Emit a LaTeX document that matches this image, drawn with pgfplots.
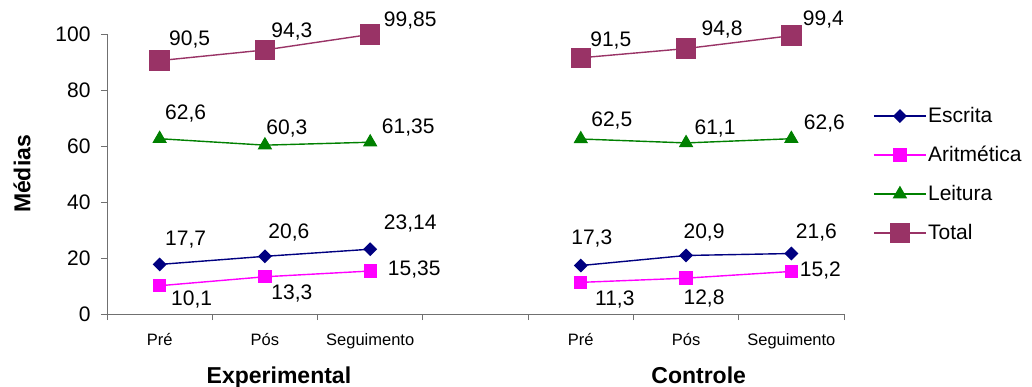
\documentclass[border=0pt]{standalone}
\usepackage{pgfplots}
\pgfplotsset{compat=1.18}
\usepackage{fontspec}
\setmainfont{Liberation Sans}

\definecolor{escrita}{HTML}{000080}
\definecolor{aritm}{HTML}{FF00FF}
\definecolor{leitura}{HTML}{008000}
\definecolor{total}{HTML}{993366}
\definecolor{axisgray}{HTML}{707070}

\newcommand{\fs}[1]{\fontsize{#1bp}{#1bp}\selectfont}

\begin{document}
\begin{tikzpicture}
\path[use as bounding box] (-107bp,-73bp) rectangle (925bp,314bp);
\begin{axis}[
  at={(0,0)}, anchor=south west,
  scale only axis,
  width=737bp, height=280bp,
  xmin=0.5, xmax=7.5,
  ymin=0, ymax=100,
  clip=false,
  axis lines=left,
  axis line style={-, axisgray, line width=0.9bp},
  tick align=outside,
  tick style={axisgray, line width=0.9bp},
  major tick length=6bp,
  minor tick length=6bp,
  ytick={0,20,...,100},
  yticklabel style={font=\fs{21}, xshift=-7bp},
  xtick={1,2,3,5,6,7},
  xticklabels={Pré, Pós, Seguimento, Pré, Pós, Seguimento},
  major x tick style={draw=none},
  minor xtick={0.5,1.5,...,7.5},
  xticklabel style={font=\fs{16.5}, yshift=-10bp},
  ylabel={\textbf{Médias}},
  ylabel style={font=\fs{23}, at={(axis description cs:-0.1153,0.5)}, anchor=center},
  /pgf/number format/.cd, use comma, fixed, precision=2, assume math mode=true, /pgfplots/.cd,
  point meta=y,
  nodes near coords,
  visualization depends on={value \thisrow{dx}\as\labdx},
  visualization depends on={value \thisrow{dy}\as\labdy},
  every node near coord/.append style={black, font=\fs{21}, anchor=center,
    xshift=\labdx bp, yshift=\labdy bp, inner sep=0pt},
  legend style={draw=none, fill=none, font=\fs{21},
    at={(1.0394,0.745)}, anchor=north west,
    inner sep=0pt, row sep=18bp,
    nodes={inner sep=1.5bp, text height=15bp, text depth=3bp}},
  legend cell align=left,
  legend image code/.code={%
    \draw[mark repeat=2, mark phase=2, #1]
      plot coordinates {(0bp,0bp) (26bp,0bp) (52bp,0bp)};},
  every axis plot/.append style={line width=1.4bp},
]

% Experimental
\addplot[escrita, mark=square*, mark size=4.2bp, mark options={rotate=45}]
  table {
x y dx dy
1 17.7 26 25
2 20.6 24 24
3 23.14 40 26
};
\addlegendentry{Escrita}

\addplot[aritm, mark=square*, mark size=6bp]
  table {
x y dx dy
1 10.1 32 -14
2 13.3 27 -17
3 15.35 44 2
};
\addlegendentry{Aritmética}

\addplot[leitura, mark=triangle*, mark size=7bp]
  table {
x y dx dy
1 62.6 26 25
2 60.3 22 17
3 61.35 38 15
};
\addlegendentry{Leitura}

\addplot[total, mark=square*, mark size=9.5bp]
  table {
x y dx dy
1 90.5 30 21
2 94.3 27 18
3 99.85 40 14
};
\addlegendentry{Total}

% Controle
\addplot[escrita, mark=square*, mark size=4.2bp, mark options={rotate=45}, forget plot]
  table {
x y dx dy
5 17.3 11 27
6 20.9 18 23
7 21.6 25 21
};

\addplot[aritm, mark=square*, mark size=6bp, forget plot]
  table {
x y dx dy
5 11.3 34 -17
6 12.8 18 -20
7 15.2 29 1
};

\addplot[leitura, mark=triangle*, mark size=7bp, forget plot]
  table {
x y dx dy
5 62.5 31 18
6 61.1 29 14
7 62.6 33 15
};

\addplot[total, mark=square*, mark size=9.5bp, forget plot]
  table {
x y dx dy
5 91.5 30 17
6 94.8 36 19
7 99.4 32 16
};

% group names below the categories, on a common baseline
\node[font=\fs{23}\bfseries, anchor=base, inner sep=0pt] at ([yshift=-69bp]axis cs:2.133,0) {Experimental};
\node[font=\fs{23}\bfseries, anchor=base, inner sep=0pt] at ([yshift=-69bp]axis cs:6.12,0) {Controle};
\end{axis}
\end{tikzpicture}
\end{document}
